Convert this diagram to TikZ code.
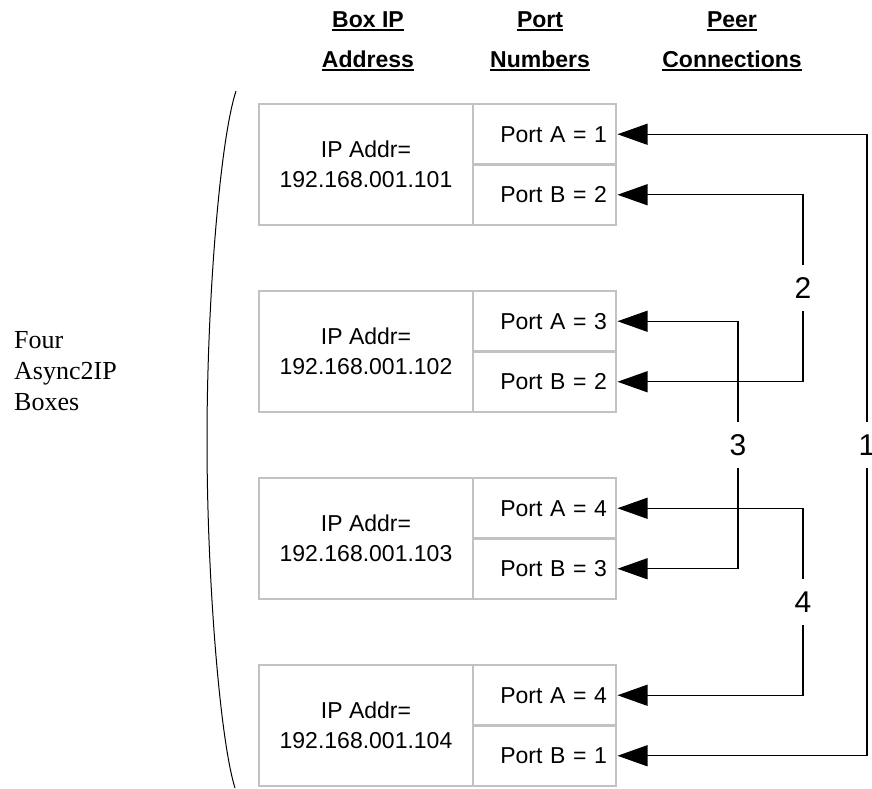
\documentclass[tikz,border=0pt]{standalone}
\usepackage{fontspec}
\setmainfont{Liberation Sans}
\newfontfamily\serifA{Liberation Serif}
\usetikzlibrary{arrows.meta,calc}
\definecolor{boxgray}{RGB}{194,194,194}
\begin{document}
\begin{tikzpicture}[x=1pt,y=-1pt,
  boxline/.style={draw=boxgray, line width=2.4pt, inner sep=0pt, outer sep=0pt},
  ipbox/.style={boxline, minimum width=214pt, minimum height=121pt, align=center, font=\fontsize{23}{29.5}\selectfont},
  portbox/.style={boxline, outer sep=1.5pt, minimum width=143pt, minimum height=60.5pt, text width=125pt, align=right, inner xsep=9pt, font=\fontsize{23}{27}\selectfont},
  head/.style={font=\bfseries\fontsize{23}{27}\selectfont, inner sep=0pt, anchor=base},
  uline/.style={line width=2pt},
  conn/.style={line width=1.2pt, {Triangle[length=30pt,width=21pt]}-{Triangle[length=30pt,width=21pt]}},
  numlab/.style={fill=white, inner sep=0pt, minimum height=46pt, minimum width=20pt, font=\fontsize{30}{34}\selectfont},
  bracket/.style={line width=1pt}
]
\useasboundingbox[fill=white] (0,0) rectangle (872,788);

% headers
\node[head] (h1a) at (368,27) {Box IP};
\node[head] (h1b) at (368,67) {Address};
\node[head] (h2a) at (540,27) {Port};
\node[head] (h2b) at (540,67) {Numbers};
\node[head] (h3a) at (732,27) {Peer};
\node[head] (h3b) at (732,67) {Connections};
\foreach \n in {h1a,h1b,h2a,h2b,h3a,h3b}
  \draw[uline] ([yshift=-2.5pt]\n.base west) -- ([yshift=-2.5pt]\n.base east);

% side text and bracket
\node[anchor=north west, inner sep=0pt, align=left, font=\serifA\fontsize{26}{31}\selectfont] (four) at (14,331) {Four\\Async2IP\\Boxes};
\draw[bracket] (236,91) .. controls (220,140) and (207,300) .. (207,440)
  .. controls (207,580) and (220,740) .. (235,788);

% boxes
\foreach \i/\ip/\a/\b in {1/101/1/2, 2/102/3/2, 3/103/4/3, 4/104/4/1} {
  \pgfmathsetmacro\T{104+187*(\i-1)}
  \node[ipbox] (ip\i) at (366,\T+60.5) {IP Addr=\\192.168.001.\ip};
  \node[portbox] (pA\i) at (544.5,\T+30.25) {Port A = \a};
  \node[portbox] (pB\i) at (544.5,\T+90.75) {Port B = \b};
}

% connections
\draw[conn] (pA1.east) -- ++(249.5,0) coordinate (k1) |- (pB4.east);
\draw[conn] (pB1.east) -- ++(185.5,0) coordinate (k2) |- (pB2.east);
\draw[conn] (pA2.east) -- ++(120.5,0) coordinate (k3) |- (pB3.east);
\draw[conn] (pA3.east) -- ++(185.5,0) coordinate (k4) |- (pA4.east);

\node[numlab] (n1) at ($(k1)!0.5!(k1 |- pB4.east)$) {1};
\node[numlab] (n2) at ($(k2)!0.5!(k2 |- pB2.east)$) {2};
\node[numlab] (n3) at ($(k3)!0.5!(k3 |- pB3.east)$) {3};
\node[numlab] (n4) at ($(k4)!0.5!(k4 |- pA4.east)$) {4};
\end{tikzpicture}
\end{document}
